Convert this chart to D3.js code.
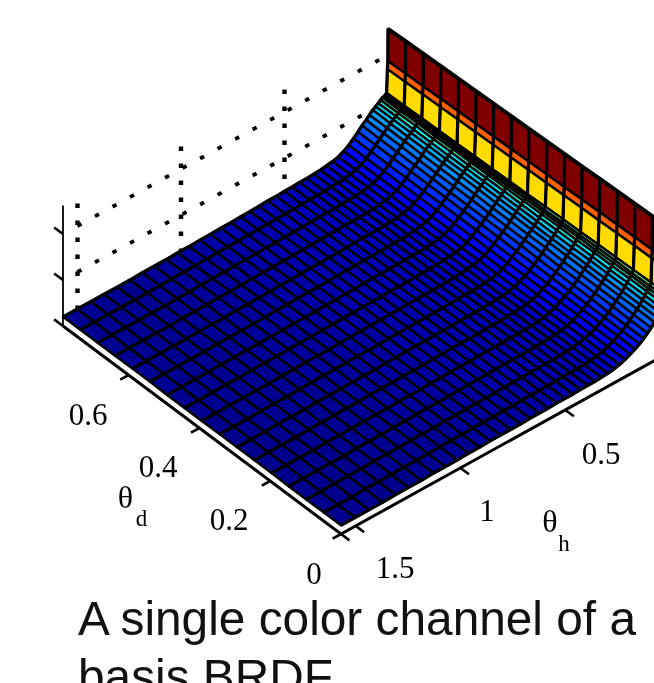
<!DOCTYPE html>
<html><head><meta charset="utf-8">
<script src="https://cdnjs.cloudflare.com/ajax/libs/d3/7.8.5/d3.min.js"></script>
<style>html,body{margin:0;padding:0;background:#fff;overflow:hidden}svg{display:block}</style></head>
<body><svg id="c" width="654" height="683"></svg>
<script>
// ---- data ----
const thetaH = [0,.0007,.003,.0067,.012,.0186,.0267,.0363,.0475,.0601,.0742,.0898,.1068,.1254,.1454,.1669,.1899,.2144,.2404,.2678,.2968,.3272,.3591,.3925,.4274,.4637,.5015,.5409,.5817,.624,.6678,.7131,.7598,.8081,.8578,.909,.9617,1.0158,1.0715,1.1286,1.1872,1.2473,1.3089,1.372,1.4365,1.5026,1.57];
const thetaD = [0,.049,.098,.147,.196,.245,.294,.343,.393,.442,.491,.54,.589,.638,.687,.736,.785];
const surfaceZ = [
[2.57,2.57,2.57,2.57,2.57,2.57,2.57,2.57,2.57,2.57,2.57,2.57,2.57,2.57,2.57,2.57,2.57],
[1.87,1.87,1.87,1.87,1.87,1.87,1.87,1.87,1.87,1.87,1.87,1.87,1.87,1.87,1.87,1.87,1.87],
[1.70,1.70,1.70,1.70,1.70,1.70,1.70,1.70,1.70,1.70,1.70,1.70,1.70,1.70,1.70,1.70,1.70],
[1.20,1.20,1.20,1.20,1.20,1.20,1.20,1.20,1.19,1.19,1.19,1.19,1.19,1.19,1.19,1.19,1.19],
[1.14,1.14,1.14,1.15,1.15,1.15,1.15,1.15,1.16,1.16,1.16,1.16,1.16,1.16,1.17,1.17,1.17],
[1.10,1.10,1.11,1.11,1.11,1.12,1.12,1.12,1.13,1.13,1.13,1.13,1.14,1.14,1.14,1.15,1.15],
[1.06,1.06,1.07,1.07,1.08,1.08,1.09,1.09,1.10,1.10,1.11,1.11,1.12,1.12,1.13,1.13,1.14],
[.99,1.00,1.01,1.01,1.02,1.03,1.04,1.04,1.05,1.06,1.07,1.07,1.08,1.09,1.10,1.10,1.11],
[.93,.94,.95,.96,.97,.97,.98,.99,1.00,1.01,1.02,1.03,1.03,1.04,1.05,1.06,1.07],
[.86,.87,.88,.89,.90,.91,.92,.93,.95,.96,.97,.98,.99,1.00,1.01,1.02,1.03],
[.80,.81,.82,.83,.85,.86,.87,.88,.89,.90,.92,.93,.94,.95,.96,.97,.99],
[.72,.73,.75,.76,.77,.78,.80,.81,.82,.83,.85,.86,.87,.88,.90,.91,.92],
[.65,.66,.68,.69,.70,.71,.73,.74,.75,.76,.78,.79,.80,.81,.83,.84,.85],
[.58,.59,.60,.62,.63,.64,.65,.67,.68,.69,.70,.71,.73,.74,.75,.76,.78],
[.52,.53,.54,.55,.56,.57,.58,.59,.61,.62,.63,.64,.65,.66,.67,.68,.69],
[.46,.47,.48,.49,.50,.50,.51,.52,.53,.54,.55,.56,.56,.57,.58,.59,.60],
[.41,.42,.42,.43,.44,.44,.45,.45,.46,.47,.47,.48,.49,.49,.50,.50,.51],
[.36,.36,.37,.37,.38,.38,.39,.39,.40,.40,.41,.41,.42,.42,.43,.43,.44],
[.32,.32,.33,.33,.33,.34,.34,.34,.35,.35,.36,.36,.36,.37,.37,.38,.38],
[.29,.29,.30,.30,.30,.31,.31,.31,.32,.32,.33,.33,.33,.34,.34,.35,.35],
[.27,.27,.28,.28,.28,.29,.29,.29,.30,.30,.30,.31,.31,.31,.32,.32,.33],
[.26,.26,.27,.27,.27,.28,.28,.28,.29,.29,.29,.29,.30,.30,.30,.31,.31],
[.25,.25,.26,.26,.26,.27,.27,.27,.28,.28,.28,.28,.29,.29,.29,.30,.30],
[.25,.25,.25,.26,.26,.26,.27,.27,.27,.27,.28,.28,.28,.28,.29,.29,.29],
[.25,.25,.25,.25,.26,.26,.26,.27,.27,.27,.27,.28,.28,.28,.28,.29,.29],
[.24,.25,.25,.25,.25,.26,.26,.26,.27,.27,.27,.27,.28,.28,.28,.28,.28],
[.24,.24,.25,.25,.25,.25,.26,.26,.26,.26,.27,.27,.27,.27,.28,.28,.28],
[.24,.24,.24,.25,.25,.25,.25,.26,.26,.26,.26,.27,.27,.27,.27,.27,.27],
[.23,.24,.24,.24,.25,.25,.25,.25,.26,.26,.26,.26,.26,.27,.27,.27,.27],
[.23,.23,.24,.24,.24,.25,.25,.25,.25,.25,.26,.26,.26,.26,.26,.26,.26],
[.23,.23,.23,.24,.24,.24,.24,.25,.25,.25,.25,.25,.25,.26,.26,.26,.25],
[.22,.23,.23,.23,.24,.24,.24,.24,.24,.25,.25,.25,.25,.25,.25,.25,.25],
[.22,.22,.23,.23,.23,.23,.24,.24,.24,.24,.24,.24,.25,.25,.25,.25,.24],
[.22,.22,.22,.23,.23,.23,.23,.23,.24,.24,.24,.24,.24,.24,.24,.24,.24],
[.22,.22,.22,.22,.22,.23,.23,.23,.23,.23,.23,.24,.24,.24,.24,.24,.23],
[.21,.21,.22,.22,.22,.22,.22,.23,.23,.23,.23,.23,.23,.23,.23,.23,.23],
[.21,.21,.21,.22,.22,.22,.22,.22,.22,.22,.23,.23,.23,.23,.23,.23,.22],
[.20,.21,.21,.21,.21,.22,.22,.22,.22,.22,.22,.22,.22,.22,.22,.22,.22],
[.20,.20,.21,.21,.21,.21,.21,.22,.22,.22,.22,.22,.22,.22,.22,.22,.21],
[.20,.20,.20,.20,.21,.21,.21,.21,.21,.21,.21,.21,.21,.21,.21,.21,.21],
[.19,.20,.20,.20,.20,.20,.21,.21,.21,.21,.21,.21,.21,.21,.21,.21,.21],
[.19,.19,.20,.20,.20,.20,.20,.20,.20,.21,.21,.21,.21,.21,.20,.20,.20],
[.19,.19,.19,.19,.20,.20,.20,.20,.20,.20,.20,.20,.20,.20,.20,.20,.20],
[.18,.19,.19,.19,.19,.19,.20,.20,.20,.20,.20,.20,.20,.20,.20,.20,.20],
[.18,.18,.19,.19,.19,.19,.19,.19,.20,.20,.20,.20,.20,.20,.20,.20,.20],
[.18,.18,.18,.19,.19,.19,.19,.19,.19,.19,.20,.20,.20,.20,.20,.20,.20],
[.18,.18,.18,.18,.19,.19,.19,.19,.19,.19,.19,.20,.20,.20,.20,.20,.20]
];
const hTicks = [0.5, 1, 1.5];
const dTicks = [0.2, 0.4, 0.6];
const zTicks = [0, 1, 2];
const zTop = 2.62;
const hTickLabels = ["0.5", "1", "1.5"];
const dTickLabels = ["0.6", "0.4", "0.2", "0"];
const captionLines = ["A single color channel of a", "basis BRDF"];

// ---- scales ----
const svg = d3.select("#c");
const hFrac = d3.scaleLinear().domain([1.57, 0]).range([0, 1]);
const dFrac = d3.scaleLinear().domain([0, 0.785]).range([0, 1]);
const mix = (a, b, t) => a + (b - a) * t;
const floorX = (u, v) => mix(mix(341, 63, v), mix(670, 388, v), u);
const floorY = (u, v) => mix(mix(534, 326, v), mix(352, 147, v), u);
const zUnit  = (u, v) => mix(48, 46, v);
const project = (h, d, z) => {
  const u = hFrac(h), v = dFrac(d);
  return [floorX(u, v), floorY(u, v) - z * zUnit(u, v)];
};
const jet = d3.scaleLinear()
  .domain([0, .125, .375, .625, .875, 1])
  .range(["#00008c", "#0000ff", "#00ffff", "#ffff00", "#ff0000", "#800000"]);
const zToT = d3.scaleLinear()
  .domain([.19, .22, .25, .30, .4, .5, .72, .95, 1.07, 1.12, 1.18, 1.7, 1.87, 2.57])
  .range([0, .015, .035, .06, .1, .13, .19, .27, .36, .43, .47, .66, .78, 1]).clamp(true);
const polygon = d3.line().curve(d3.curveLinearClosed);
const seg = d3.line();

const root = svg.append("g").style("filter", "blur(0.4px)");

// ---- back wall dotted grid ----
const back = root.append("g").attr("fill", "none").attr("stroke", "#000");
hTicks.forEach(t => {
  back.append("path").attr("d", seg([project(t, .785, zTop * .95), project(t, .785, 0)]))
    .attr("stroke-width", 4.4).attr("stroke-dasharray", "4.5 12.5");
});
zTicks.slice(1).forEach(z => {
  back.append("path").attr("d", seg([project(1.5, .785, z), project(0, .785, z)]))
    .attr("stroke-width", 3.8).attr("stroke-dasharray", "4.5 15.5");
});
const zAxis = root.append("g").attr("fill", "none").attr("stroke", "#000");
zAxis.append("path").attr("d", seg([project(1.57, .785, 0), project(1.57, .785, zTop)])).attr("stroke-width", 1.8);
zTicks.forEach(z => {
  zAxis.append("path").attr("d", seg([project(1.57, .785, z), project(1.57, .81, z)])).attr("stroke-width", 2.6);
});

// ---- surface: back rows first ----
const surf = root.append("g").attr("stroke", "#000").attr("stroke-width", 2.4).attr("stroke-linejoin", "round");
d3.range(thetaH.length - 1).forEach(i => {
  d3.range(thetaD.length - 1).forEach(j => {
    surf.append("path")
      .attr("d", polygon([
        project(thetaH[i], thetaD[j], surfaceZ[i][j]),
        project(thetaH[i], thetaD[j + 1], surfaceZ[i][j + 1]),
        project(thetaH[i + 1], thetaD[j + 1], surfaceZ[i + 1][j + 1]),
        project(thetaH[i + 1], thetaD[j], surfaceZ[i + 1][j])
      ]))
      .attr("fill", jet(zToT(surfaceZ[i][j])));
  });
});
const dLines = root.append("g").attr("fill", "none").attr("stroke", "#000").attr("stroke-width", 3.2).attr("stroke-linejoin", "round");
thetaD.forEach((d, j) => {
  dLines.append("path").attr("d", seg(thetaH.map((h, i) => project(h, d, surfaceZ[i][j]))));
});
root.append("path").attr("fill", "none").attr("stroke", "#000").attr("stroke-width", 4)
  .attr("d", seg(thetaD.map((d, j) => project(0, d, surfaceZ[0][j]))));

// ---- floor axes ----
const axes = root.append("g").attr("fill", "none").attr("stroke", "#000");
axes.append("path").attr("stroke-width", 3).attr("d", seg([project(1.57, .785, 0), project(1.57, 0, 0), project(0, 0, 0)]));
hTicks.concat([1.57]).forEach(t => {
  axes.append("path").attr("stroke-width", 2.6).attr("d", seg([project(t, 0, 0), project(t, -.024, 0)]));
});
dTicks.concat([0]).forEach(t => {
  axes.append("path").attr("stroke-width", 2.6).attr("d", seg([project(1.57, t, 0), project(1.61, t, 0)]));
});
axes.append("path").attr("stroke-width", 2.4).attr("d", seg([project(0.02, 0, 0.3), project(0.02, 0, 0.38)]));

// ---- labels ----
const serif = "'Liberation Serif','Times New Roman',serif";
const txt = root.append("g").attr("font-family", serif).attr("fill", "#000").attr("font-size", 31);
const putLabel = (s, x, y, fs) => txt.append("text").attr("x", x).attr("y", y).attr("text-anchor", "middle")
  .attr("font-size", fs || null).text(s);
[[88, 425], [158, 477], [229, 530], [314, 584]].forEach((p, i) => putLabel(dTickLabels[i], p[0], p[1]));
[[601, 464], [487, 521], [395, 578]].forEach((p, i) => putLabel(hTickLabels[i], p[0], p[1]));
putLabel("θ", 125.5, 508, 32); putLabel("d", 141.5, 526, 23);
putLabel("θ", 550, 532, 32); putLabel("h", 564, 551, 23);

// ---- caption ----
root.append("g").attr("font-family", "'Liberation Sans',Arial,sans-serif").attr("font-size", 47.8).attr("fill", "#111")
  .selectAll("text").data(captionLines).join("text")
  .attr("x", 78).attr("y", (d, i) => 635 + i * 58).text(d => d);
</script></body></html>
